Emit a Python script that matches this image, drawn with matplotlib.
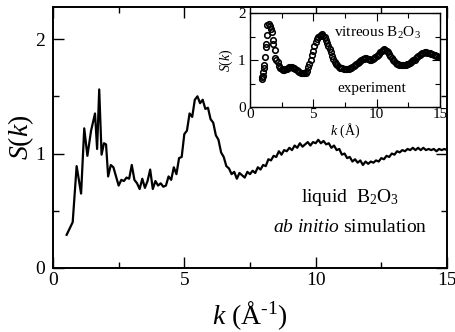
import matplotlib
matplotlib.use("Agg")
import matplotlib.pyplot as plt
from matplotlib.ticker import MultipleLocator

plt.rcParams['font.family'] = ['Liberation Serif', 'DejaVu Serif']
plt.rcParams['mathtext.fontset'] = 'custom'
plt.rcParams['mathtext.rm'] = 'Liberation Serif'
plt.rcParams['mathtext.it'] = 'Liberation Serif:italic'

# ab initio simulation, liquid B2O3
k_sim = [0.52, 0.75, 0.90, 1.07, 1.19, 1.31, 1.45, 1.60, 1.68, 1.76, 1.85, 1.94, 2.02,
         2.1, 2.2, 2.3, 2.4, 2.5, 2.6, 2.7, 2.8, 2.9, 3.0, 3.1, 3.2, 3.3, 3.4, 3.5,
         3.6, 3.7, 3.8, 3.9, 4.0, 4.1, 4.2, 4.3, 4.4, 4.5, 4.6, 4.7, 4.8, 4.9, 5.0,
         5.1, 5.2, 5.3, 5.4, 5.5, 5.6, 5.7, 5.8, 5.9, 6.0, 6.1, 6.2, 6.3, 6.4, 6.5,
         6.6, 6.7, 6.8, 6.9, 7.0, 7.1, 7.2, 7.3, 7.4, 7.5, 7.6, 7.7, 7.8, 7.9, 8.0,
         8.1, 8.2, 8.3, 8.4, 8.5, 8.6, 8.7, 8.8, 8.9, 9.0, 9.1, 9.2, 9.3, 9.4, 9.5,
         9.6, 9.7, 9.8, 9.9, 10.0, 10.1, 10.2, 10.3, 10.4, 10.5, 10.6, 10.7, 10.8,
         10.9, 11.0, 11.1, 11.2, 11.3, 11.4, 11.5, 11.6, 11.7, 11.8, 11.9, 12.0,
         12.1, 12.2, 12.3, 12.4, 12.5, 12.6, 12.7, 12.8, 12.9, 13.0, 13.1, 13.2,
         13.3, 13.4, 13.5, 13.6, 13.7, 13.8, 13.9, 14.0, 14.1, 14.2, 14.3, 14.4,
         14.5, 14.6, 14.7, 14.8, 14.9, 15.0]
S_sim = [0.29, 0.40, 0.89, 0.65, 1.22, 0.98, 1.20, 1.35, 1.04, 1.56, 0.99, 1.09, 1.08,
         0.80, 0.90, 0.88, 0.80, 0.72, 0.77, 0.76, 0.79, 0.78, 0.90, 0.77, 0.74, 0.69,
         0.78, 0.70, 0.76, 0.86, 0.69, 0.76, 0.72, 0.74, 0.71, 0.72, 0.80, 0.77, 0.88,
         0.82, 0.96, 0.97, 1.17, 1.20, 1.35, 1.32, 1.47, 1.50, 1.44, 1.47, 1.39, 1.40,
         1.30, 1.27, 1.16, 1.12, 1.01, 0.97, 0.89, 0.87, 0.82, 0.84, 0.78, 0.83, 0.81,
         0.79, 0.84, 0.82, 0.85, 0.83, 0.88, 0.86, 0.90, 0.89, 0.95, 0.94, 0.98, 0.97,
         1.02, 0.99, 1.03, 1.02, 1.05, 1.03, 1.07, 1.05, 1.09, 1.06, 1.08, 1.10, 1.07,
         1.10, 1.09, 1.12, 1.09, 1.11, 1.08, 1.09, 1.05, 1.07, 1.03, 1.04, 0.99, 1.00,
         0.96, 0.97, 0.93, 0.95, 0.92, 0.94, 0.90, 0.93, 0.91, 0.93, 0.92, 0.94, 0.93,
         0.96, 0.95, 0.98, 0.97, 1.00, 0.99, 1.02, 1.01, 1.03, 1.02, 1.04, 1.03, 1.05,
         1.03, 1.05, 1.03, 1.05, 1.03, 1.04, 1.03, 1.04, 1.02, 1.04, 1.03, 1.04, 1.03]

# experiment, vitreous B2O3 (inset)
k_exp = [0.92, 0.96, 1.00, 1.04, 1.08, 1.13, 1.18, 1.24, 1.26, 1.32, 1.39, 1.47, 1.55,
         1.63, 1.71, 1.79, 1.84, 1.95,
         2.0, 2.1, 2.2, 2.3, 2.4, 2.5, 2.6, 2.7, 2.8, 2.9, 3.0, 3.1, 3.2, 3.3, 3.4,
         3.5, 3.6, 3.7, 3.8, 3.9, 4.0, 4.1, 4.2, 4.3, 4.4, 4.5, 4.6, 4.7, 4.8, 4.9,
         5.0, 5.1, 5.2, 5.3, 5.4, 5.5, 5.6, 5.7, 5.8, 5.9, 6.0, 6.1, 6.2, 6.3, 6.4,
         6.5, 6.6, 6.7, 6.8, 6.9, 7.0, 7.1, 7.2, 7.3, 7.4, 7.5, 7.6, 7.7, 7.8, 7.9,
         8.0, 8.1, 8.2, 8.3, 8.4, 8.5, 8.6, 8.7, 8.8, 8.9, 9.0, 9.1, 9.2, 9.3, 9.4,
         9.5, 9.6, 9.7, 9.8, 9.9, 10.0, 10.1, 10.2, 10.3, 10.4, 10.5, 10.6, 10.7,
         10.8, 10.9, 11.0, 11.1, 11.2, 11.3, 11.4, 11.5, 11.6, 11.7, 11.8, 11.9,
         12.0, 12.1, 12.2, 12.3, 12.4, 12.5, 12.6, 12.7, 12.8, 12.9, 13.0, 13.1,
         13.2, 13.3, 13.4, 13.5, 13.6, 13.7, 13.8, 13.9, 14.0, 14.1, 14.2, 14.3,
         14.4, 14.5, 14.6, 14.7, 14.8, 14.9, 15.0]
S_exp = [0.59, 0.63, 0.66, 0.75, 0.82, 0.89, 1.07, 1.28, 1.35, 1.53, 1.74, 1.77, 1.72,
         1.65, 1.60, 1.43, 1.35, 1.21,
         1.05, 1.00, 0.95, 0.88, 0.83, 0.81, 0.79, 0.79, 0.80, 0.81, 0.83, 0.85, 0.86,
         0.85, 0.84, 0.82, 0.80, 0.78, 0.76, 0.75, 0.73, 0.73, 0.72, 0.72, 0.73, 0.77,
         0.85, 0.92, 1.00, 1.10, 1.19, 1.29, 1.38, 1.44, 1.49, 1.52, 1.54, 1.55, 1.52,
         1.48, 1.43, 1.37, 1.30, 1.23, 1.16, 1.09, 1.02, 0.96, 0.92, 0.89, 0.86, 0.84,
         0.83, 0.82, 0.81, 0.81, 0.80, 0.80, 0.81, 0.83, 0.84, 0.86, 0.88, 0.90, 0.92,
         0.94, 0.96, 0.98, 1.00, 1.02, 1.03, 1.04, 1.04, 1.03, 1.02, 1.01, 1.01, 1.02,
         1.04, 1.06, 1.08, 1.10, 1.13, 1.16, 1.19, 1.21, 1.23, 1.22, 1.20, 1.17, 1.13,
         1.08, 1.04, 1.00, 0.97, 0.94, 0.92, 0.91, 0.90, 0.89, 0.89, 0.89, 0.89, 0.90,
         0.91, 0.92, 0.93, 0.95, 0.97, 0.99, 1.01, 1.04, 1.07, 1.09, 1.11, 1.13, 1.14,
         1.15, 1.16, 1.16, 1.15, 1.15, 1.14, 1.13, 1.12, 1.11, 1.10, 1.09, 1.08, 1.07,
         1.06]

fig = plt.figure(figsize=(4.56, 3.32), dpi=100)

# main panel
ax = fig.add_axes([0.1162, 0.1928, 0.864, 0.786])
ax.plot(k_sim, S_sim, color='black', lw=1.6)
ax.set_xlim(0, 15)
ax.set_ylim(0, 2.28)
ax.xaxis.set_major_locator(MultipleLocator(5))
ax.xaxis.set_minor_locator(MultipleLocator(2.5))
ax.yaxis.set_major_locator(MultipleLocator(1))
ax.yaxis.set_minor_locator(MultipleLocator(0.5))
ax.tick_params(which='both', direction='in', top=True, right=True, width=1.0,
               labelsize=14)
ax.tick_params(which='major', length=8)
ax.tick_params(which='minor', length=4.5)
ax.tick_params(axis='x', pad=3)
ax.tick_params(axis='y', pad=6)
for s in ax.spines.values():
    s.set_linewidth(1.4)
ax.set_xlabel('$k$ (Å$^{\\mathrm{\u20101}}$)', fontsize=20, labelpad=7)
ax.set_ylabel(r'$S$($k$)', fontsize=20, labelpad=-1)
ax.text(0.755, 0.27, r'liquid  B$_2$O$_3$', transform=ax.transAxes,
        ha='center', va='center', fontsize=14)
ax.text(0.755, 0.155, r'$ab\ initio$ simulation', transform=ax.transAxes,
        ha='center', va='center', fontsize=14)

# inset
ins = fig.add_axes([0.548, 0.6777, 0.4167, 0.2831])
ins.plot(k_exp, S_exp, 'o', mfc='none', mec='black', ms=4.0, mew=1.15)
ins.set_xlim(0, 15)
ins.set_ylim(0, 2)
ins.xaxis.set_major_locator(MultipleLocator(5))
ins.xaxis.set_minor_locator(MultipleLocator(2.5))
ins.yaxis.set_major_locator(MultipleLocator(1))
ins.yaxis.set_minor_locator(MultipleLocator(0.5))
ins.tick_params(which='both', direction='in', top=True, right=True, width=0.8,
                labelsize=11)
ins.tick_params(which='major', length=6)
ins.tick_params(which='minor', length=3.5)
ins.tick_params(axis='x', pad=1)
ins.tick_params(axis='y', pad=3)
for s in ins.spines.values():
    s.set_linewidth(1.0)
ins.set_xlabel(r'$k$ (Å)', fontsize=10, labelpad=0)
ins.set_ylabel(r'$S$($k$)', fontsize=10, labelpad=2)
ins.text(0.67, 0.79, r'vitreous B$_2$O$_3$', transform=ins.transAxes,
         ha='center', va='center', fontsize=11)
ins.text(0.64, 0.2, 'experiment', transform=ins.transAxes,
         ha='center', va='center', fontsize=11)

fig.savefig('out.png', dpi=100)
